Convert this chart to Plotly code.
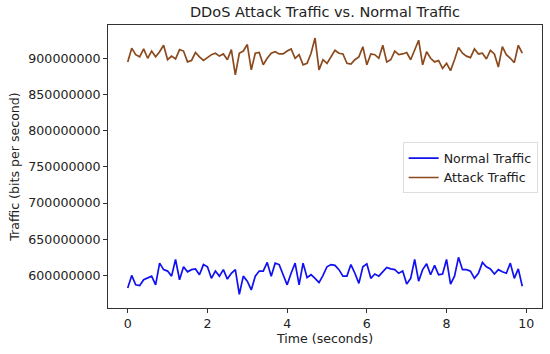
import numpy as np
import plotly.graph_objects as go

time_s = [round(i * 0.1, 1) for i in range(100)]

normal_traffic_m = [
    582.5, 600, 587, 586, 594, 596, 599, 587, 617, 608,
    606, 599, 622, 594, 612, 605, 608, 609, 601, 615,
    612, 596, 606, 599, 608, 595, 603, 608, 574, 599,
    592, 580, 599, 606, 606, 618, 599, 617, 615, 601,
    587, 603, 617, 587, 617, 597, 601, 596, 590, 600,
    612, 615, 614, 608, 599, 599, 615, 603, 589, 612,
    616, 596, 602, 599, 605, 611, 609, 608, 603, 606,
    588, 596, 622, 592, 608, 616, 601, 614, 601, 602,
    622, 588, 599, 625, 608, 608, 606, 596, 603, 618,
    612, 609, 602, 608, 605, 603, 617, 596, 609, 585,
]

attack_traffic_m = [
    895, 914, 905, 902, 913, 900, 910, 902, 909, 918,
    898, 903, 899, 912, 910, 895, 897, 908, 902, 897,
    901, 905, 907, 903, 906, 898, 912, 877, 907, 910,
    919, 884, 907, 908, 891, 900, 907, 909, 906, 906,
    910, 913, 900, 905, 891, 893, 907, 928, 884, 898,
    893, 902, 911, 907, 906, 893, 892, 898, 902, 916,
    891, 906, 905, 900, 918, 895, 898, 910, 905, 906,
    908, 898, 911, 925, 891, 909, 900, 895, 897, 886,
    893, 883, 898, 915, 907, 903, 901, 913, 906, 907,
    899, 911, 906, 888, 916, 905, 900, 894, 918, 907,
]

normal_traffic = [v * 1e6 for v in normal_traffic_m]
attack_traffic = [v * 1e6 for v in attack_traffic_m]

font_family = "DejaVu Sans"
tick_size = 12.6

fig = go.Figure()
fig.add_trace(go.Scatter(x=time_s, y=normal_traffic, mode="lines",
                         name="Normal Traffic",
                         line=dict(color="#1010f0", width=1.7)))
fig.add_trace(go.Scatter(x=time_s, y=attack_traffic, mode="lines",
                         name="Attack Traffic",
                         line=dict(color="#8B4A1E", width=1.7)))

axis_common = dict(showline=True, linecolor="#333333", linewidth=1, mirror=True,
                   ticks="outside", ticklen=4, tickcolor="#333333",
                   showgrid=False, zeroline=False, automargin=False,
                   tickfont=dict(family=font_family, size=tick_size, color="#222222"))

fig.update_layout(
    width=550, height=354,
    margin=dict(l=108, r=8, t=25, b=46),
    paper_bgcolor="white", plot_bgcolor="white",
    font=dict(family=font_family, color="#222222"),
    title=dict(text="DDoS Attack Traffic vs. Normal Traffic",
               x=(108 + 542) / 2 / 550, xanchor="center",
               y=1 - 12 / 354, yanchor="middle",
               font=dict(family=font_family, size=14.5, color="#222222")),
    xaxis=dict(range=[-0.495, 10.395], dtick=2, tick0=0,
               title=dict(text="Time (seconds)", standoff=3,
                          font=dict(family=font_family, size=tick_size)),
               **axis_common),
    yaxis=dict(range=[555e6, 946e6], dtick=50e6, tick0=0, tickformat="d",
               title=dict(text="Traffic (bits per second)", standoff=5,
                          font=dict(family=font_family, size=tick_size)),
               **axis_common),
    legend=dict(x=0.99, xanchor="right", y=0.585, yanchor="top",
                bgcolor="rgba(255,255,255,0.9)", bordercolor="#dddddd",
                borderwidth=1, font=dict(family=font_family, size=tick_size),
                tracegroupgap=0, itemwidth=30),
    showlegend=True,
)

fig.write_html("out.html",
               config={"displayModeBar": False},
               post_script="document.body.style.margin='0px';document.body.style.padding='0px';")
